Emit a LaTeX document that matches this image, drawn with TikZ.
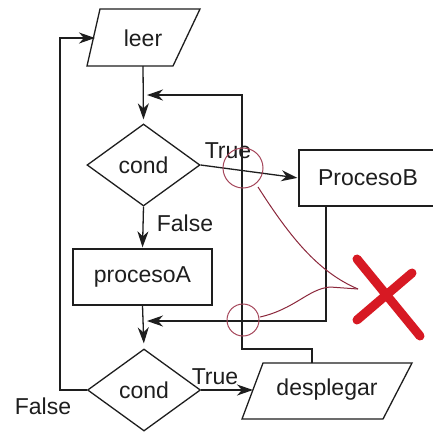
\documentclass[tikz,border=0pt]{standalone}
\usepackage{fontspec}
\setmainfont{Liberation Sans}
\usetikzlibrary{shapes.geometric,arrows.meta}
\definecolor{ink}{RGB}{30,30,30}
\definecolor{redx}{RGB}{215,25,35}
\definecolor{redline}{RGB}{140,40,60}
\definecolor{redcirc}{RGB}{165,70,90}
\begin{document}
\begin{tikzpicture}[x=1pt,y=-1pt,
  every node/.style={font=\fontsize{23}{27}\selectfont, text=ink},
  shapeline/.style={draw=ink, line width=1.3pt},
  conn/.style={draw=ink, line width=1.3pt},
  arr/.style={conn, -{Stealth[length=16pt,width=11pt,inset=5pt]}},
  decision/.style={shape=diamond, shapeline, minimum width=113pt, minimum height=82pt, inner sep=0pt},
  procbox/.style={shape=rectangle, shapeline, minimum width=139pt, minimum height=56pt, inner sep=0pt},
  lbl/.style={inner sep=0pt},
  scribble/.style={draw=redline, line width=1pt},
  ring/.style={draw=redcirc, line width=1pt},
  cross/.style={draw=redx, line width=9pt, line cap=round}]
\useasboundingbox (0,0) rectangle (433,432);
\clip (0,0) rectangle (433,432);
\fill[white] (0,0) rectangle (433,432);
% leer (input)
\draw[shapeline] (100,9) -- (200,9) -- (173,66) -- (87,66) -- cycle;
\node[lbl] (leer) at (143,38) {leer};
\coordinate (leerB) at (143,66);
\coordinate (leerL) at (95,38);
% decisions and processes
\node[decision] (d1) at (143.5,165) {cond};
\node[procbox] (A) at (142.5,277) {procesoA};
\node[procbox, minimum width=138pt] (B) at (368,178) {ProcesoB};
\node[decision] (d2) at (144,390) {cond};
% desplegar (output)
\draw[shapeline] (263,363) -- (412,363) -- (383,419) -- (242,419) -- cycle;
\node[lbl] (desp) at (327,390) {desplegar};
\coordinate (despL) at (253,390);
\coordinate (despT) at (312,363);
% junctions
\coordinate (j1) at (143,95);
\coordinate (j2) at (143,321);
\coordinate (k1) at (242,95);
\coordinate (k2) at (242,349);
\coordinate (k3) at (312,349);
\coordinate (m1) at (326,206);
\coordinate (m2) at (326,321);
\coordinate (f1) at (60,390);
\coordinate (f2) at (60,38);
% connectors
\draw[arr, shorten >=4pt] (leerB) -- (d1.north);
\draw[arr, shorten >=4pt] (despT) -- (k3) -- (k2) -- (k1) -- (j1);
\draw[arr, shorten >=1pt] (d1.east) -- (B.west);
\draw[arr, shorten >=1pt] (d1.south) -- (A.north);
\draw[arr, shorten >=5pt] (A.south) -- (d2.north);
\draw[arr, shorten >=4pt] (m1) -- (m2) -- (j2);
\draw[arr] (d2.east) -- (despL);
\draw[arr] (d2.west) -- (f1) -- (f2) -- (leerL);
% labels
\node[lbl] (t1) at (228,151) {True};
\node[lbl] (fa1) at (185,223) {False};
\node[lbl] (t2) at (215,377) {True};
\node[lbl] (fa2) at (43,406) {False};
% red annotations
\draw[ring] (243,168) circle[radius=20];
\draw[ring] (243,320) circle[radius=16];
\draw[scribble] (258,187) .. controls (290,237) and (318,272) .. (358,289);
\draw[scribble] (260,317) .. controls (295,309) and (308,289) .. (330,287) -- (358,289);
\draw[cross] (357,259) -- (420,336);
\draw[cross] (412,273) -- (357,320);
\end{tikzpicture}
\end{document}
